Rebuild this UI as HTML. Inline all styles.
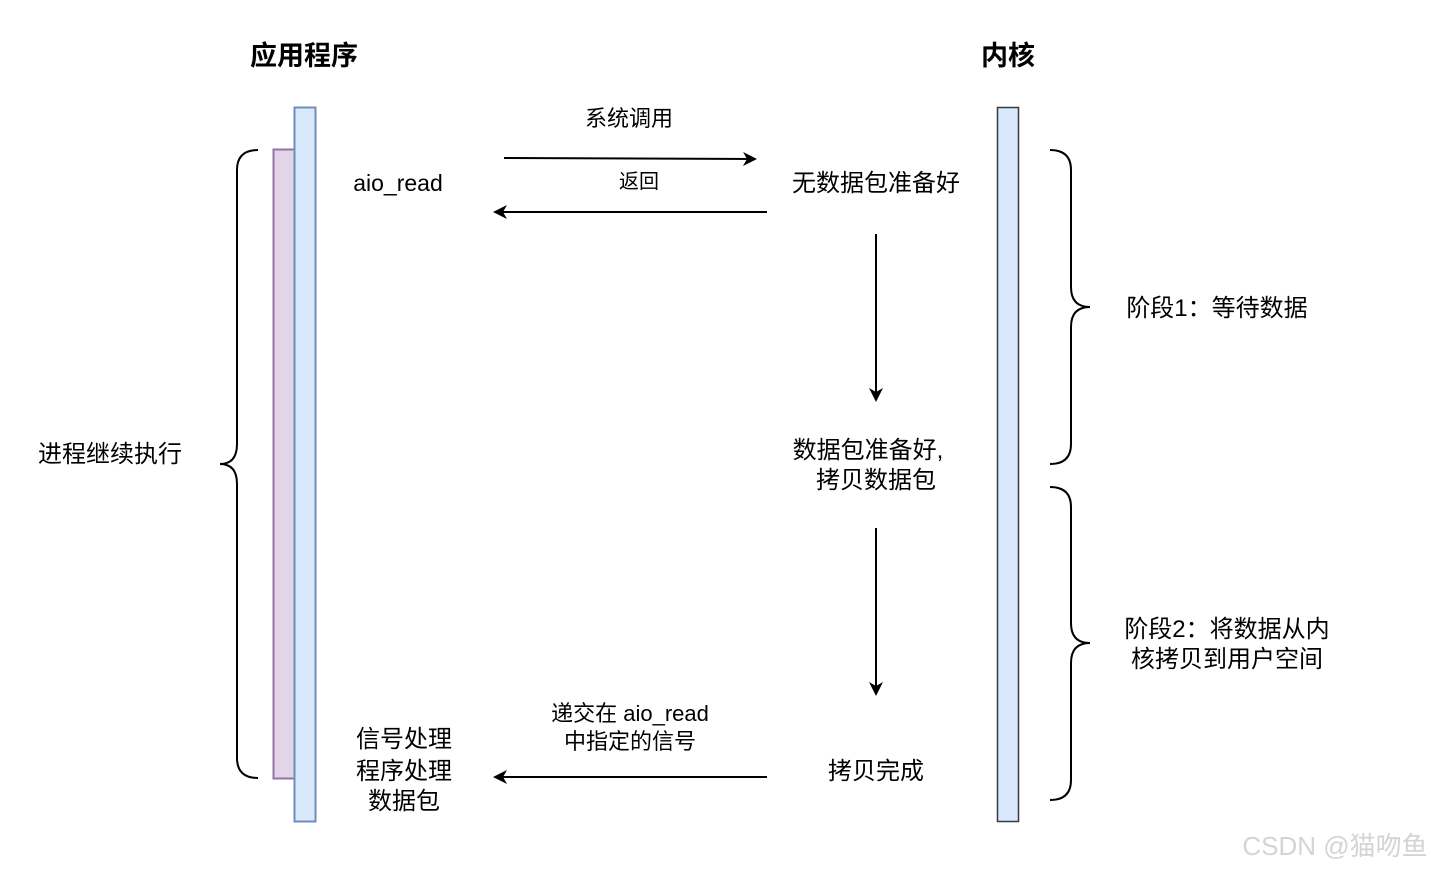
<!DOCTYPE html>
<html><head><meta charset="utf-8"><style>
html,body{margin:0;padding:0;background:#fff;}
svg{display:block;}
text{font-family:"Liberation Sans","Noto Sans CJK SC",sans-serif;fill:#000;}
</style></head><body>
<svg width="1431" height="871" viewBox="0 0 1431 871" xmlns="http://www.w3.org/2000/svg">
<defs>
<marker id="ah" markerWidth="12" markerHeight="12" refX="10" refY="6" orient="auto" markerUnits="userSpaceOnUse">
<path d="M0,0 L12,6 L0,12 L3,6 Z" fill="#000"/>
</marker>
<marker id="ahv" markerWidth="14" markerHeight="18" refX="12" refY="7" orient="auto" markerUnits="userSpaceOnUse">
<path d="M0,0 L14,7 L0,14 L4,7 Z" fill="#000"/>
</marker>
</defs>
<text x="304" y="65" font-size="27" font-weight="bold" text-anchor="middle">应用程序</text>
<text x="1008" y="65" font-size="27" font-weight="bold" text-anchor="middle">内核</text>

<rect x="273.5" y="149.5" width="21" height="629" fill="#e1d5e7" stroke="#9673a6" stroke-width="2"/>
<rect x="294.5" y="107.5" width="21" height="714" fill="#dae8fc" stroke="#6c8ebf" stroke-width="2"/>
<rect x="997.5" y="107.5" width="21" height="714" fill="#dae8fc" stroke="#36393d" stroke-width="1.5"/>

<!-- left brace -->
<path d="M258,150 Q237,150 237,170 L237,444 Q237,464 220,464 Q237,464 237,484 L237,758 Q237,778 258,778" fill="none" stroke="#000" stroke-width="2"/>
<!-- right braces -->
<path d="M1050,150 Q1071,150 1071,170 L1071,287 Q1071,307 1090,307 Q1071,307 1071,327 L1071,444 Q1071,464 1050,464" fill="none" stroke="#000" stroke-width="2"/>
<path d="M1050,487 Q1071,487 1071,507 L1071,623 Q1071,643 1090,643 Q1071,643 1071,663 L1071,780 Q1071,800 1050,800" fill="none" stroke="#000" stroke-width="2"/>

<!-- arrows -->
<line x1="504" y1="158" x2="755" y2="159" stroke="#000" stroke-width="2" marker-end="url(#ahv)"/>
<line x1="767" y1="212" x2="495" y2="212" stroke="#000" stroke-width="2" marker-end="url(#ahv)"/>
<line x1="876" y1="234" x2="876" y2="400" stroke="#000" stroke-width="2" marker-end="url(#ahv)"/>
<line x1="876" y1="528" x2="876" y2="694" stroke="#000" stroke-width="2" marker-end="url(#ahv)"/>
<line x1="767" y1="777" x2="495" y2="777" stroke="#000" stroke-width="2" marker-end="url(#ahv)"/>

<text x="629" y="126" font-size="22" text-anchor="middle">系统调用</text>
<text x="639" y="188" font-size="20" text-anchor="middle">返回</text>
<text x="398" y="191" font-size="23" text-anchor="middle">aio_read</text>
<text x="876" y="191" font-size="24" text-anchor="middle">无数据包准备好</text>
<text x="868" y="458" font-size="24" text-anchor="middle">数据包准备好,</text>
<text x="876" y="488" font-size="24" text-anchor="middle">拷贝数据包</text>
<text x="876" y="779" font-size="24" text-anchor="middle">拷贝完成</text>
<text x="630" y="721" font-size="22" text-anchor="middle">递交在 aio_read</text>
<text x="630" y="749" font-size="22" text-anchor="middle">中指定的信号</text>
<text x="404" y="747" font-size="24" text-anchor="middle">信号处理</text>
<text x="404" y="779" font-size="24" text-anchor="middle">程序处理</text>
<text x="404" y="809" font-size="24" text-anchor="middle">数据包</text>
<text x="110" y="462" font-size="24" text-anchor="middle">进程继续执行</text>
<text x="1217" y="316" font-size="24" text-anchor="middle">阶段1：等待数据</text>
<text x="1227" y="637" font-size="24" text-anchor="middle">阶段2：将数据从内</text>
<text x="1227" y="667" font-size="24" text-anchor="middle">核拷贝到用户空间</text>
<text x="1335" y="855" font-size="26" text-anchor="middle" style="fill:#d4d4d4">CSDN @猫吻鱼</text>
</svg>
</body></html>
